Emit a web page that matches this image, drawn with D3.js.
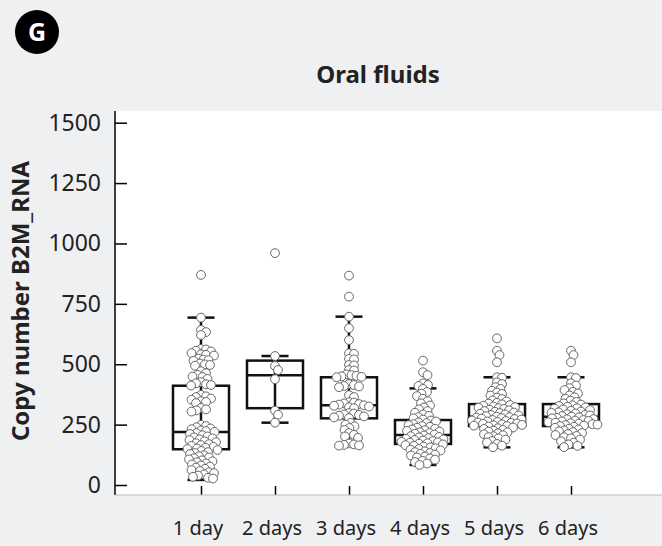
<!DOCTYPE html>
<html>
<head>
<meta charset="utf-8">
<script src="https://cdn.jsdelivr.net/npm/d3@7"></script>
<style>
  body { margin: 0; background: #eff0f2; }
  svg { display: block; font-family: "Noto Sans", sans-serif; }
</style>
</head>
<body>
<svg id="chart" width="662" height="546"></svg>
<script>
// categories and box statistics
var days = ["1 day", "2 days", "3 days", "4 days", "5 days", "6 days"];
var yTicks = [0, 250, 500, 750, 1000, 1250, 1500];

var q1          = [148, 318, 276, 170, 244, 244];
var medians     = [219, 454, 330, 207, 283, 283];
var q3          = [411, 515, 446, 269, 335, 335];
var whiskerLow  = [21, 258, 163, 83, 156, 156];
var whiskerHigh = [693, 534, 697, 400, 446, 446];

// individual samples (estimated from the dot swarm)
var day1 = [870, 693, 642, 633, 621,
  563, 561, 556, 553, 546, 541, 539, 536, 523, 519, 517, 514, 503, 499, 497, 494,
  471, 463, 456, 449, 447, 439,
  426, 421, 417, 414, 412,
  373, 367, 364, 358, 353, 347, 344, 339, 319, 313, 309, 304,
  249, 244, 239, 234, 231, 226, 223, 220,
  215, 211, 206, 201, 197, 193, 189, 186, 181, 177,
  173, 169, 165, 162, 158, 154, 151, 149,
  145, 141, 136, 132, 128, 123, 119, 114, 111, 106, 102, 98, 94, 89, 85,
  81, 76, 72, 67, 62, 58, 53, 49, 44, 39, 34, 30, 27];
var day2 = [960, 534, 493, 476, 438, 308, 291, 258];
var day3 = [867, 780, 697, 649, 600, 545, 543, 522, 520, 497, 495, 476, 474,
  458, 455, 452, 450, 448, 446,
  418, 414, 410, 408, 405,
  372, 364,
  343, 341, 338, 335, 333, 330, 328, 325, 322, 318,
  298, 296, 292, 290, 287, 284, 280, 277,
  257, 250, 243, 236, 228,
  215, 208, 201, 195,
  172, 168, 166, 164, 163];
var day4 = [515, 467, 455, 421, 414, 410,
  398, 385, 378, 368, 357, 347, 338, 329, 321, 313, 306, 299, 292,
  286, 281, 276, 271,
  267, 263, 259, 256, 252, 248, 244, 241, 237, 233, 230, 227, 224, 221, 218, 215,
  212, 209,
  205, 202, 199, 197, 194, 191, 189, 186, 184, 182, 179, 177, 175, 173, 171,
  168, 165, 162, 159, 156, 152, 149, 146, 143, 139, 136, 132, 129, 126, 122,
  118, 114, 110, 105, 100, 95, 89, 83];
var day5 = [607, 556, 538, 508, 446, 444, 425, 418, 405, 398, 390, 383, 377, 370,
  362, 356, 350, 346, 340, 337,
  334, 331, 328, 325, 322, 320, 318, 315, 312, 309, 306, 303, 300, 298, 295, 292,
  290, 288, 285, 283,
  281, 279, 277, 275, 273, 271, 269, 267, 265, 263, 261, 259, 257, 255, 253, 251,
  249, 247, 246, 244,
  242, 238, 235, 232, 228, 225, 221, 218, 214, 210, 206, 202, 198, 193, 188, 182,
  176, 170, 163, 156];
var day6 = [556, 538, 508, 446, 443, 421, 412, 401, 393, 386, 379, 371, 363, 357,
  349, 344, 338,
  333, 330, 327, 324, 321, 318, 316, 313, 310, 307, 304, 301, 299, 296, 293, 290,
  288, 285, 283,
  280, 278, 276, 273, 272, 269, 267, 265, 263, 260, 258, 256, 254, 252, 250, 248,
  246, 244,
  241, 237, 233, 230, 226, 222, 219, 215, 211, 207, 203, 198, 193, 188, 181, 175,
  168, 162, 157];

var samples = [day1, day2, day3, day4, day5, day6];

var svg = d3.select("#chart");

var plot = {left: 115, top: 111, right: 662, bottom: 495};

var x = d3.scalePoint()
    .domain(days)
    .range([201, 571]);

var y = d3.scaleLinear()
    .domain([0, 1500])
    .range([485, 122.7]);

// white plotting panel
svg.append("rect")
    .attr("x", plot.left)
    .attr("y", plot.top)
    .attr("width", plot.right - plot.left)
    .attr("height", plot.bottom - plot.top)
    .attr("fill", "#fff");

// panel badge
svg.append("circle")
    .attr("cx", 37).attr("cy", 32).attr("r", 22)
    .attr("fill", "#000");
svg.append("text")
    .attr("x", 37).attr("y", 41)
    .attr("text-anchor", "middle")
    .attr("fill", "#fff")
    .attr("font-weight", "bold")
    .attr("font-size", 25)
    .text("G");

svg.append("text")
    .attr("x", 378).attr("y", 83)
    .attr("text-anchor", "middle")
    .attr("font-weight", "bold")
    .attr("font-size", 24)
    .attr("fill", "#222")
    .text("Oral fluids");

svg.append("text")
    .attr("transform", "translate(29,301) rotate(-90)")
    .attr("text-anchor", "middle")
    .attr("font-weight", "bold")
    .attr("font-size", 24)
    .attr("fill", "#222")
    .text("Copy number B2M_RNA");

// y axis (ticks point inward)
var yAxis = d3.axisRight(y)
    .tickValues(yTicks)
    .tickSize(12)
    .tickFormat("");

var gy = svg.append("g")
    .attr("transform", "translate(" + plot.left + ",0)")
    .call(yAxis);
gy.select(".domain").remove();
gy.selectAll(".tick line").attr("stroke", "#000").attr("stroke-width", 1.5);

svg.selectAll(".ylab")
    .data(yTicks)
  .enter().append("text")
    .attr("class", "ylab")
    .attr("x", plot.left - 14)
    .attr("y", function(d) { return y(d) + 8; })
    .attr("text-anchor", "end")
    .attr("font-size", 23)
    .attr("fill", "#222")
    .text(function(d) { return d; });

svg.append("line")
    .attr("x1", plot.left).attr("x2", plot.left)
    .attr("y1", plot.top).attr("y2", plot.bottom)
    .attr("stroke", "#000").attr("stroke-width", 1.5);

// x axis
var xAxis = d3.axisTop(x).tickSize(9).tickFormat("");
var gx = svg.append("g")
    .attr("transform", "translate(0," + plot.bottom + ")")
    .call(xAxis);
gx.select(".domain").remove();
gx.selectAll(".tick line").attr("stroke", "#000").attr("stroke-width", 1.5);

svg.append("line")
    .attr("x1", plot.left).attr("x2", plot.right)
    .attr("y1", plot.bottom).attr("y2", plot.bottom)
    .attr("stroke", "#bbb").attr("stroke-width", 1);

svg.selectAll(".xlab")
    .data(days)
  .enter().append("text")
    .attr("class", "xlab")
    .attr("x", function(d) { return x(d) - 3; })
    .attr("y", 535)
    .attr("text-anchor", "middle")
    .attr("font-size", 20)
    .attr("fill", "#222")
    .text(function(d) { return d; });

// box plots
var boxW = 56, capW = 27;
var boxes = svg.selectAll(".box")
    .data(days)
  .enter().append("g")
    .attr("class", "box")
    .attr("stroke", "#111")
    .attr("fill", "none");

boxes.append("line")
    .attr("x1", function(d) { return x(d); })
    .attr("x2", function(d) { return x(d); })
    .attr("y1", function(d, i) { return y(whiskerLow[i]); })
    .attr("y2", function(d, i) { return y(whiskerHigh[i]); })
    .attr("stroke-width", 2.5);

[whiskerLow, whiskerHigh].forEach(function(arr) {
  boxes.append("line")
      .attr("x1", function(d) { return x(d) - capW / 2; })
      .attr("x2", function(d) { return x(d) + capW / 2; })
      .attr("y1", function(d, i) { return y(arr[i]); })
      .attr("y2", function(d, i) { return y(arr[i]); })
      .attr("stroke-width", 2.5);
});

boxes.append("rect")
    .attr("x", function(d) { return x(d) - boxW / 2; })
    .attr("y", function(d, i) { return y(q3[i]); })
    .attr("width", boxW)
    .attr("height", function(d, i) { return y(q1[i]) - y(q3[i]); })
    .attr("stroke-width", 2.5);

boxes.append("line")
    .attr("x1", function(d) { return x(d) - boxW / 2; })
    .attr("x2", function(d) { return x(d) + boxW / 2; })
    .attr("y1", function(d, i) { return y(medians[i]); })
    .attr("y2", function(d, i) { return y(medians[i]); })
    .attr("stroke-width", 2.5);

// beeswarm placement (points may overlap a little, as in the figure)
var R = 4.4, D = 5.0;
function swarm(vals, cx) {
  var placed = [];
  vals.slice().sort(function(a, b) { return b - a; }).forEach(function(v) {
    var py = y(v), px = cx;
    for (var k = 0; k < 400; k++) {
      var off = (k % 2 ? 1 : -1) * Math.ceil(k / 2) * 0.5;
      var tx = cx + off;
      var ok = placed.every(function(p) {
        return (p.x - tx) * (p.x - tx) + (p.y - py) * (p.y - py) >= D * D;
      });
      if (ok) { px = tx; break; }
    }
    placed.push({x: px, y: py, v: v});
  });
  return placed;
}

days.forEach(function(d, i) {
  svg.append("g")
      .selectAll("circle")
      .data(swarm(samples[i], x(d)))
    .enter().append("circle")
      .attr("cx", function(p) { return p.x; })
      .attr("cy", function(p) { return p.y; })
      .attr("r", R)
      .attr("fill", "#fff")
      .attr("stroke", "#666")
      .attr("stroke-width", 1);
});
</script>
</body>
</html>
